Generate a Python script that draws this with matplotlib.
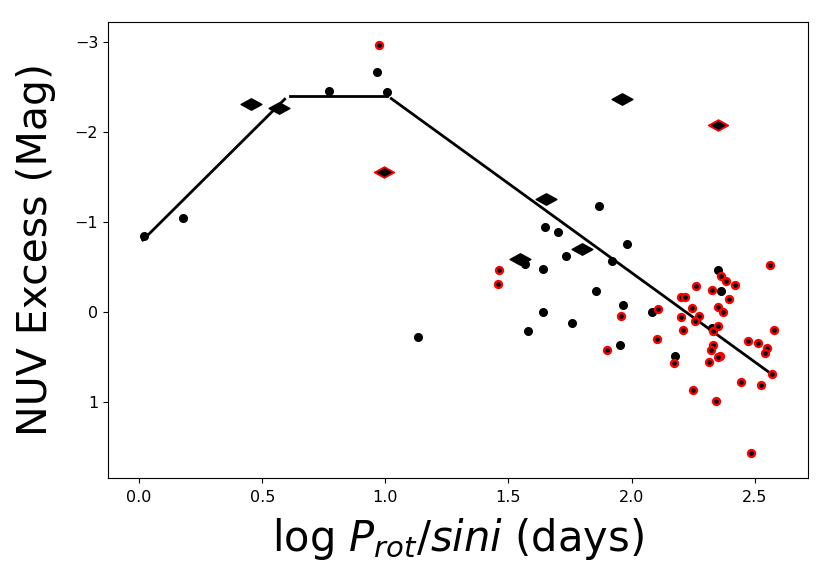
import numpy as np
from matplotlib import pyplot as plt
from matplotlib.path import Path

# black points (log P/sini, NUV excess)
black_x = [0.018, 0.18, 0.772, 0.966, 1.007, 1.134, 1.867, 1.648, 1.702, 1.982,
           1.735, 1.919, 1.566, 1.64, 2.351, 2.362, 1.856, 1.966, 1.642, 2.084,
           1.76, 1.579, 1.955, 2.176, 2.325]
black_y = [-0.85, -1.05, -2.45, -2.66, -2.44, 0.28, -1.18, -0.944, -0.889, -0.756,
           -0.622, -0.57, -0.53, -0.474, -0.463, -0.237, -0.23, -0.085, -0.007, 0.003,
           0.118, 0.207, 0.367, 0.49, 0.18]

# red-ringed points
red_x = [0.974, 1.461, 1.457, 1.958, 1.9, 2.561, 2.362, 2.382, 2.419, 2.26,
         2.325, 2.2, 2.219, 2.397, 2.245, 2.353, 2.107, 2.373, 2.272, 2.2,
         2.256, 2.353, 2.208, 2.33, 2.58, 2.102, 2.472, 2.514, 2.549, 2.542,
         2.33, 2.323, 2.359, 2.353, 2.172, 2.316, 2.572, 2.443, 2.526, 2.249,
         2.344, 2.485]
red_y = [-2.96, -0.463, -0.315, 0.044, 0.415, -0.526, -0.404, -0.344, -0.296, -0.285,
         -0.241, -0.167, -0.167, -0.141, -0.048, -0.052, -0.03, 0.0, 0.037, 0.056,
         0.1, 0.152, 0.2, 0.211, 0.2, 0.3, 0.322, 0.341, 0.4, 0.448,
         0.367, 0.415, 0.485, 0.496, 0.559, 0.548, 0.685, 0.77, 0.811, 0.867,
         0.981, 1.563]

# diamonds
dia_x = [0.454, 0.566, 1.963, 1.654, 1.545, 1.80]
dia_y = [-2.31, -2.27, -2.36, -1.26, -0.59, -0.70]
dia_red_x = [0.996, 2.35]
dia_red_y = [-1.55, -2.08]

# broken-line fit
seg_x = [[0.015, 0.591], [0.612, 1.008], [1.024, 2.57]]
seg_y = [[-0.80, -2.363], [-2.40, -2.40], [-2.37, 0.69]]

wide_diamond = Path([(-1, 0), (0, 0.55), (1, 0), (0, -0.55), (-1, 0)],
                    [Path.MOVETO, Path.LINETO, Path.LINETO, Path.LINETO, Path.CLOSEPOLY])

fig = plt.figure(figsize=(8.3, 5.78), dpi=100)
ax = fig.add_axes([0.130, 0.173, 0.843, 0.789])

for sx, sy in zip(seg_x, seg_y):
  ax.plot(sx, sy, color='k', lw=2.0, zorder=2)

ax.plot(black_x, black_y, 'o', color='k', ms=5.5, zorder=3)
ax.plot(red_x, red_y, 'o', mfc='k', mec='r', ms=5.0, mew=1.7, zorder=4)
ax.plot(dia_x, dia_y, ls='none', marker=wide_diamond, color='k', ms=15, zorder=5)
ax.plot(dia_red_x, dia_red_y, ls='none', marker=wide_diamond, mfc='k', mec='r',
        ms=14, mew=1.3, zorder=5)

ax.set_xlim(-0.127, 2.715)
ax.set_ylim(1.84, -3.22)
ax.set_xticks([0.0, 0.5, 1.0, 1.5, 2.0, 2.5])
ax.set_yticks([-3, -2, -1, 0, 1])
ax.tick_params(labelsize=11.5)
ax.tick_params(axis='x', pad=5)
ax.set_xlabel(r'log $P_{rot}$/$sini$ (days)', fontsize=30, labelpad=8)
ax.set_ylabel('NUV Excess (Mag)', fontsize=29.5, labelpad=13)

plt.savefig('out.png', dpi=100)
